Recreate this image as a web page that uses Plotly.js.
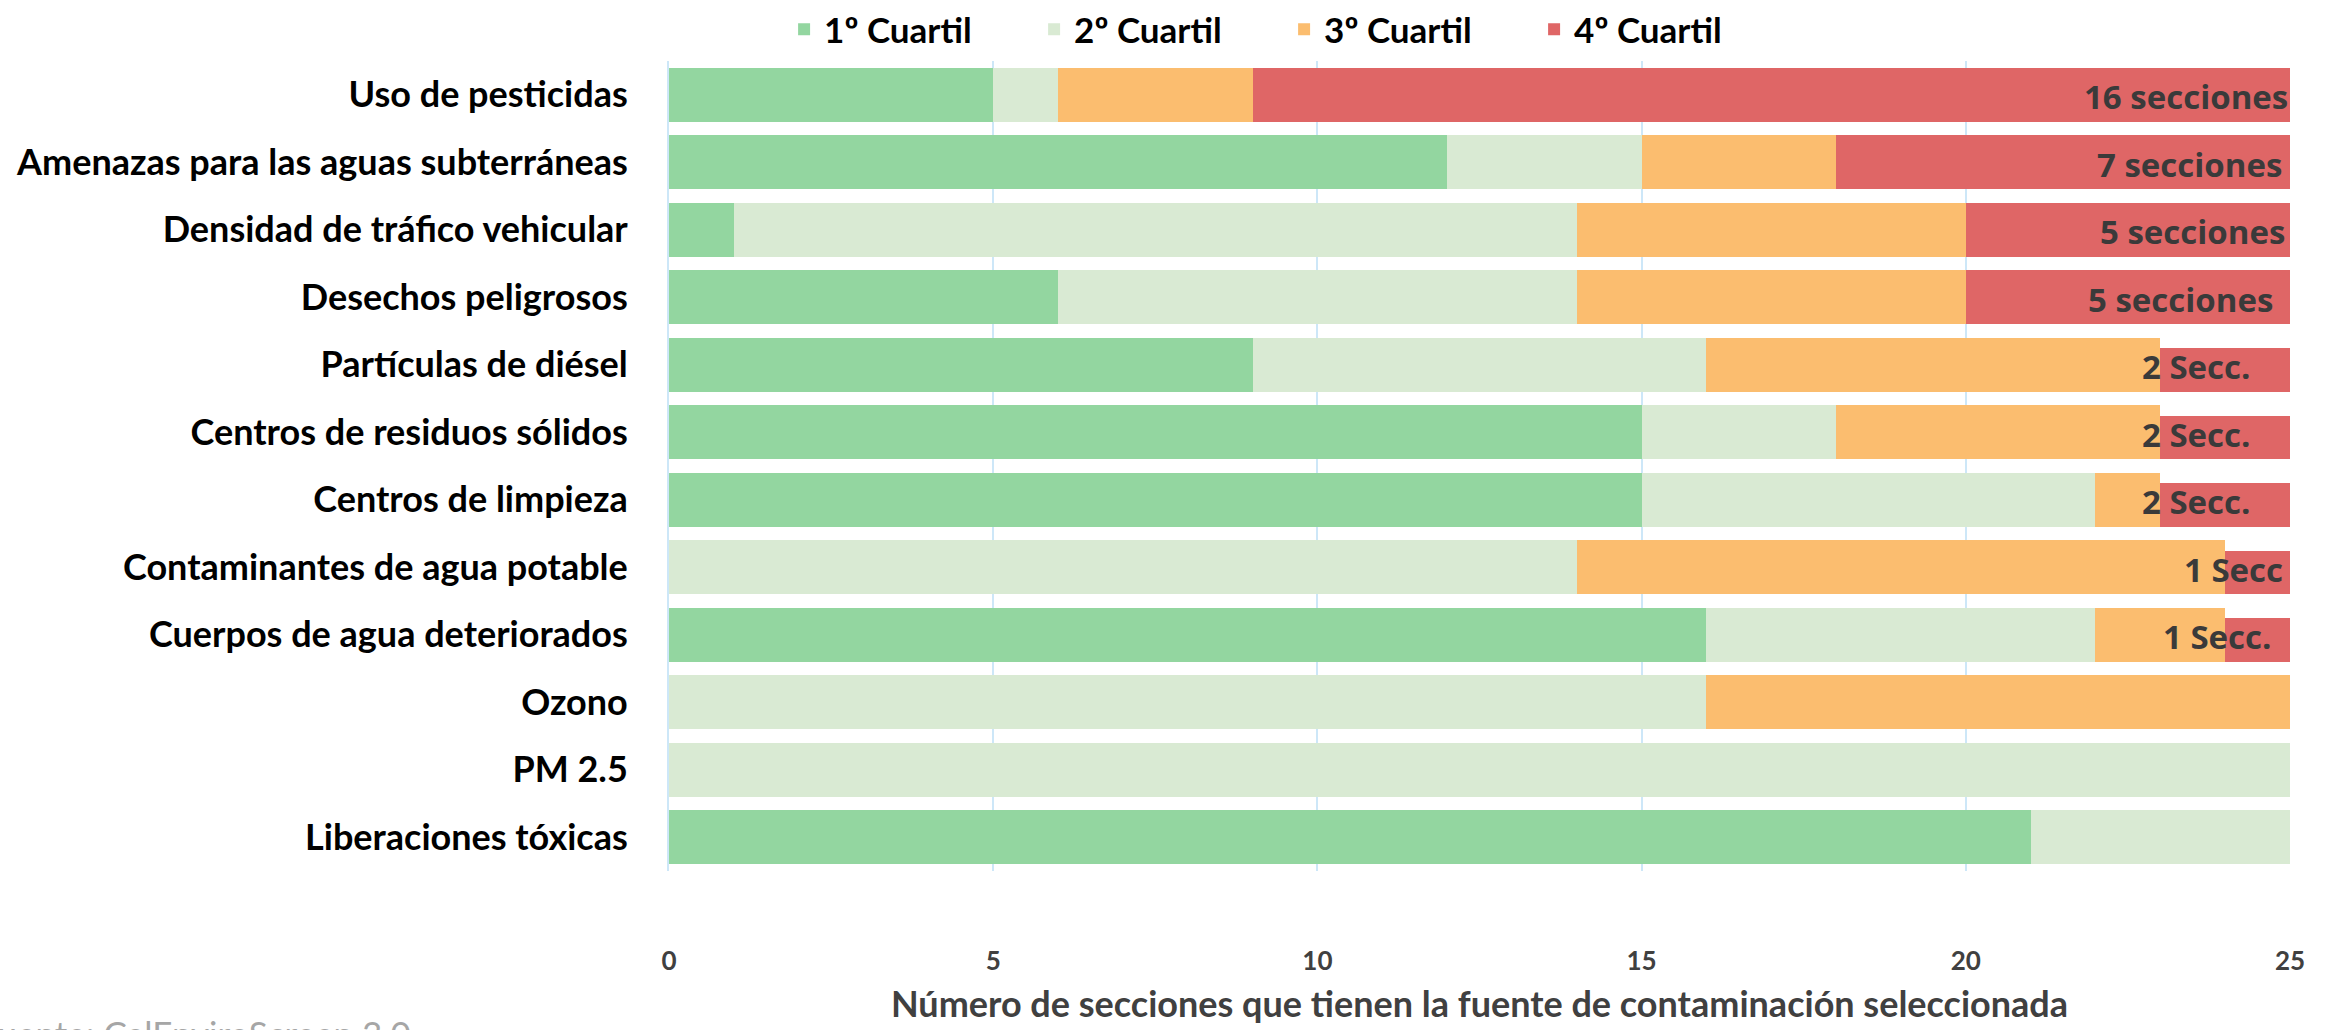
<!DOCTYPE html>
<html>
<head>
<meta charset="utf-8">
<script src="https://cdn.plot.ly/plotly-3.0.1.min.js"></script>
<style>html,body{margin:0;padding:0;background:#fff;}#chart{width:2330px;height:1030px;}</style>
</head>
<body>
<div id="chart"></div>
<script>
const categories = ["Uso de pesticidas","Amenazas para las aguas subterráneas","Densidad de tráfico vehicular","Desechos peligrosos","Partículas de diésel","Centros de residuos sólidos","Centros de limpieza","Contaminantes de agua potable","Cuerpos de agua deteriorados","Ozono","PM 2.5","Liberaciones tóxicas"];
const q1 = [5,12,1,6,9,15,15,0,16,0,0,21];
const q2 = [1,3,13,8,7,3,7,14,6,16,25,4];
const q3 = [3,3,6,6,7,5,1,10,2,9,0,0];
const q4 = [16,7,5,5,2,2,2,1,1,0,0,0];
const q4Labels = ["16 secciones","7 secciones","5 secciones","5 secciones","2 Secc.","2 Secc.","2 Secc.","1 Secc","1 Secc.","","",""];
const seriesNames = ["1º Cuartil","2º Cuartil","3º Cuartil","4º Cuartil"];
const xTicks = [0,5,10,15,20,25];
const xTitle = "Número de secciones que tienen la fuente de contaminación seleccionada";
const sourceText = "Fuente: CalEnviroScreen 3.0";

const colors = ["#93d6a0","#d9ead3","#fbbd6f","#df6666"];
const FONT = "Lato, 'Open Sans', sans-serif";

// style: narrower 4th-quartile bars on the small-count rows
const q4Width = q4.map(v => (v > 0 && v <= 2) ? 0.64 : 0.795);
const q4Offset = q4Width.map(w => 0.3975 - w);

const vals = [q1,q2,q3,q4];
const traces = vals.map((v,i) => {
  const t = {
    type: 'bar', orientation: 'h', name: seriesNames[i],
    y: categories, x: v,
    marker: {color: colors[i], line: {width: 0}},
    hoverinfo: 'x+name'
  };
  if (i === 3) { t.width = q4Width; t.offset = q4Offset; }
  return t;
});

const labelShift = [0,-6,-3,-15,-38,-38,-38,-5,-17,0,0,0];
const annotations = [];
categories.forEach((c,i) => {
  if (!q4Labels[i]) return;
  const total = q1[i]+q2[i]+q3[i]+q4[i];
  annotations.push({
    x: total, y: c, xref: 'x', yref: 'y', text: q4Labels[i], showarrow: false,
    xanchor: 'right', yanchor: 'middle', xshift: labelShift[i], yshift: -2,
    font: {family: "'Open Sans', sans-serif", size: 33, color: '#3a3a3a', weight: 700}
  });
});
annotations.push({
  xref: 'paper', yref: 'paper', x: -0.427, y: -0.172, xanchor: 'left', yanchor: 'top',
  text: sourceText, showarrow: false,
  font: {family: FONT, size: 35, color: '#a6a6a6'}
});

const layout = {
  width: 2330, height: 1030,
  margin: {l: 669, r: 40, t: 61, b: 159},
  paper_bgcolor: '#ffffff', plot_bgcolor: '#ffffff',
  barmode: 'stack', bargap: 0.205,
  showlegend: true,
  legend: {
    orientation: 'h', xref: 'paper', x: 0.071, xanchor: 'left',
    yref: 'container', y: 1.0, yanchor: 'top',
    font: {family: FONT, size: 35, color: '#000000', weight: 700},
    traceorder: 'normal', entrywidth: 205, itemwidth: 30
  },
  xaxis: {
    range: [0,25], tickvals: xTicks, ticktext: xTicks.map(String),
    showgrid: true, gridcolor: '#cde7f8', gridwidth: 2,
    zeroline: false, showline: false, ticks: '',
    ticklabelstandoff: 72,
    tickfont: {family: FONT, size: 26, color: '#404040', weight: 700},
    title: {text: xTitle, standoff: 16, font: {family: FONT, size: 36, color: '#404040', weight: 700}},
    fixedrange: true
  },
  yaxis: {
    autorange: 'reversed', type: 'category',
    showgrid: false, zeroline: false,
    showline: true, linecolor: '#cde7f8', linewidth: 2,
    ticks: '', ticklabelstandoff: 32,
    tickfont: {family: FONT, size: 36, color: '#000000', weight: 700},
    fixedrange: true
  },
  annotations: annotations
};

Plotly.newPlot('chart', traces, layout, {displayModeBar: false, staticPlot: true});
</script>
</body>
</html>
